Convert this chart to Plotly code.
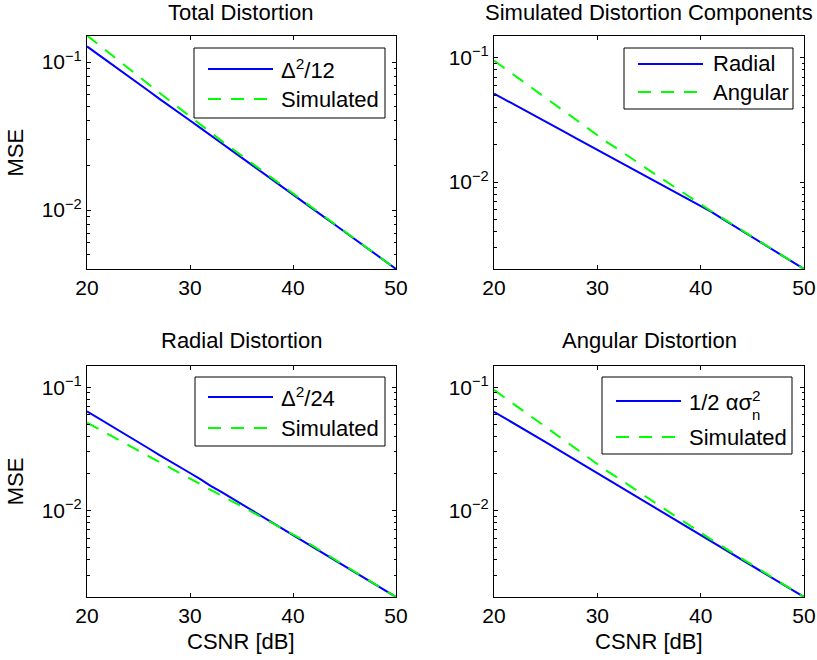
import math
import plotly.graph_objects as go

# ---------------- data ----------------
csnr_db = list(range(20, 51))

delta_sq_12 = [0.1276, 0.1138, 0.1014, 0.0904, 0.0812, 0.0716, 0.0638, 0.0566, 0.0507, 0.0452,
               0.0403, 0.0359, 0.0318, 0.0285, 0.0254, 0.0226, 0.0201, 0.0179, 0.0160, 0.0142,
               0.0127, 0.0113, 0.0101, 0.00900, 0.00803, 0.00714, 0.00636, 0.00566, 0.00505,
               0.00450, 0.00400]

total_simulated = [0.1514, 0.1330, 0.1169, 0.1030, 0.0908, 0.0800, 0.0706, 0.0622, 0.0548, 0.0483,
                   0.0427, 0.0378, 0.0335, 0.0296, 0.0263, 0.0233, 0.0207, 0.0183, 0.0163, 0.0145,
                   0.0129, 0.01146, 0.01019, 0.00907, 0.00807, 0.00717, 0.00638, 0.00568, 0.00506,
                   0.00450, 0.00400]

radial_simulated = [0.0516, 0.0466, 0.0419, 0.0378, 0.0340, 0.0306, 0.0276, 0.0249, 0.0224, 0.0202,
                    0.0182, 0.0164, 0.0148, 0.0134, 0.0120, 0.0109, 0.00982, 0.00885, 0.00798, 0.00721,
                    0.00650, 0.00578, 0.00514, 0.00457, 0.00406, 0.00361, 0.00321, 0.00285, 0.00254,
                    0.00225, 0.00200]

angular_simulated = [0.0951, 0.0828, 0.0720, 0.0627, 0.0546, 0.0474, 0.0413, 0.0360, 0.0313, 0.0272,
                     0.0237, 0.0208, 0.0184, 0.0161, 0.0142, 0.0125, 0.0110, 0.00968, 0.00853, 0.00750,
                     0.00661, 0.00586, 0.00520, 0.00461, 0.00409, 0.00363, 0.00323, 0.00286, 0.00254,
                     0.00225, 0.00200]

delta_sq_24 = [0.0638, 0.0569, 0.0507, 0.0452, 0.0406, 0.0358, 0.0319, 0.0283, 0.0254, 0.0226,
               0.0202, 0.0180, 0.0159, 0.0143, 0.0127, 0.0113, 0.0101, 0.00897, 0.00800, 0.00712,
               0.00635, 0.00566, 0.00505, 0.00450, 0.00401, 0.00357, 0.00318, 0.00283, 0.00252,
               0.00225, 0.00200]

half_alpha_sigma = [0.0632, 0.0566, 0.0506, 0.0453, 0.0405, 0.0360, 0.0320, 0.0285, 0.0256, 0.0228,
                    0.0203, 0.0181, 0.0161, 0.0144, 0.0128, 0.0114, 0.0102, 0.00905, 0.00806, 0.00717,
                    0.00638, 0.00568, 0.00506, 0.00451, 0.00402, 0.00358, 0.00319, 0.00284, 0.00253,
                    0.00225, 0.00200]

x_ticks = [20, 30, 40, 50]
y_ticks = [0.01, 0.1]
y_tick_text = ["10<sup>\u22122</sup>", "10<sup>\u22121</sup>"]

titles = ["Total Distortion", "Simulated Distortion Components", "Radial Distortion", "Angular Distortion"]
legend_labels = [["\u0394<sup>2</sup>/12", "Simulated"],
                 ["Radial", "Angular"],
                 ["\u0394<sup>2</sup>/24", "Simulated"],
                 ["1/2 \u03b1\u03c3<sup>2</sup>", "Simulated"]]
panel_series = [[delta_sq_12, total_simulated],
                [radial_simulated, angular_simulated],
                [delta_sq_24, radial_simulated],
                [half_alpha_sigma, angular_simulated]]
y_limits = [(0.004, 0.15), (0.002, 0.15), (0.002, 0.15), (0.002, 0.15)]

# ---------------- layout geometry (pixels) ----------------
W, H = 817, 660
FONT = "Liberation Sans, Arial, Helvetica, sans-serif"
BLUE = "rgb(0,0,255)"
GREEN = "rgb(0,255,0)"
DASH = "13px,10px"


def px(x):
    return x / W


def py(y):
    return 1 - y / H


# axes boxes: (left, right, top, bottom)
boxes = [(87, 396, 36, 269), (494, 804, 36, 269), (87, 396, 365.5, 597), (494, 804, 365.5, 597)]
# legend boxes: (left, right, top, bottom), sample line x0, x1, row y's, text x
legends = [
    dict(box=(194, 385, 48, 118), lx=(208, 273), ys=(69, 99), tx=279),
    dict(box=(624, 793, 48, 109), lx=(638, 703), ys=(64, 92), tx=711),
    dict(box=(195, 385, 377, 446), lx=(208, 273), ys=(397, 428), tx=279),
    dict(box=(602, 792, 377, 454), lx=(616, 681), ys=(401, 437), tx=687),
]
title_y = [13, 13, 340.5, 340.5]

minor_vals = [m * 10 ** e for e in (-3, -2, -1) for m in range(2, 10)]

fig = go.Figure()
shapes = []
annotations = []

for i in range(4):
    n = "" if i == 0 else str(i + 1)
    xa, ya = "x" + n, "y" + n
    s_theory, s_sim = panel_series[i]
    fig.add_trace(go.Scatter(x=csnr_db, y=s_theory, mode="lines", xaxis=xa, yaxis=ya,
                             line=dict(color=BLUE, width=2), showlegend=False))
    fig.add_trace(go.Scatter(x=csnr_db, y=s_sim, mode="lines", xaxis=xa, yaxis=ya,
                             line=dict(color=GREEN, width=2, dash=DASH), showlegend=False))
    l, r, t, b = boxes[i]
    lo, hi = y_limits[i]
    fig.layout["xaxis" + n] = dict(
        domain=[px(l), px(r)], anchor=ya, range=[20, 50], tickmode="array", tickvals=x_ticks,
        ticks="inside", ticklen=4, tickcolor="black", showline=True, linecolor="black", linewidth=1,
        mirror="ticks", showgrid=False, zeroline=False, automargin=False,
        tickfont=dict(family=FONT, size=21, color="black"))
    fig.layout["yaxis" + n] = dict(
        domain=[py(b), py(t)], anchor=xa, type="log", range=[math.log10(lo), math.log10(hi)],
        tickmode="array", tickvals=y_ticks, ticktext=y_tick_text,
        ticks="inside", ticklen=4, tickcolor="black", showline=True, linecolor="black", linewidth=1,
        mirror="ticks", showgrid=False, zeroline=False, automargin=False,
        minor=dict(ticks="inside", ticklen=2.5, tickcolor="black", tickmode="array", tickvals=minor_vals,
                   showgrid=False),
        tickfont=dict(family=FONT, size=21, color="black"))

    # title
    annotations.append(dict(text=titles[i], x=px((l + r) / 2), y=py(title_y[i]), xref="paper", yref="paper",
                            xanchor="center", yanchor="middle", showarrow=False,
                            font=dict(family=FONT, size=22, color="black")))
    # y label
    if i in (0, 2):
        annotations.append(dict(text="MSE", x=px(15), y=py((t + b) / 2), xref="paper", yref="paper",
                                xanchor="center", yanchor="middle", textangle=-90, showarrow=False,
                                font=dict(family=FONT, size=22, color="black")))
    if i in (2, 3):
        annotations.append(dict(text="CSNR [dB]", x=px((l + r) / 2), y=py(641), xref="paper", yref="paper",
                                xanchor="center", yanchor="middle", showarrow=False,
                                font=dict(family=FONT, size=22, color="black")))

    # legend box
    lg = legends[i]
    bl, br, bt, bb = lg["box"]
    shapes.append(dict(type="rect", xref="paper", yref="paper", x0=px(bl), x1=px(br), y0=py(bb), y1=py(bt),
                       fillcolor="white", line=dict(color="black", width=1), layer="above"))
    for j, (color, dash) in enumerate([(BLUE, "solid"), (GREEN, DASH)]):
        yy = lg["ys"][j]
        shapes.append(dict(type="line", xref="paper", yref="paper", x0=px(lg["lx"][0]), x1=px(lg["lx"][1]),
                           y0=py(yy), y1=py(yy), line=dict(color=color, width=2, dash=dash), layer="above"))
        annotations.append(dict(text=legend_labels[i][j], x=px(lg["tx"]), y=py(yy), xref="paper", yref="paper",
                                xanchor="left", yanchor="middle", showarrow=False,
                                font=dict(family=FONT, size=22, color="black")))
    if i == 3:
        annotations.append(dict(text="n", x=px(756), y=py(414), xref="paper", yref="paper",
                                xanchor="center", yanchor="middle", showarrow=False,
                                font=dict(family=FONT, size=15, color="black")))

fig.update_layout(width=W, height=H, margin=dict(l=0, r=0, t=0, b=0, autoexpand=False),
                  paper_bgcolor="white", plot_bgcolor="white", showlegend=False,
                  shapes=shapes, annotations=annotations,
                  font=dict(family=FONT, size=21, color="black"))

fig.write_html("out.html")
